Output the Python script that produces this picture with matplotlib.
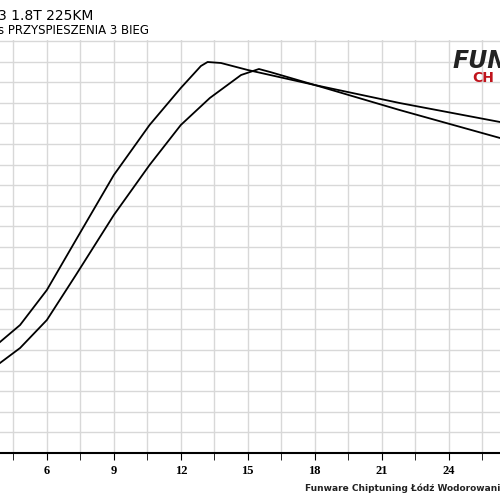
import numpy as np
import matplotlib.pyplot as plt

# time [s] and curve values (arbitrary units)
t_a = [3.9, 4.8, 6.0, 7.3, 9.0, 10.6, 12.0, 12.9, 13.2, 13.8, 15.0, 18.0, 21.8, 26.3]
y_a = [111, 128, 163, 213, 278, 328, 365, 387, 391, 390, 383, 368, 343, 315]
t_b = [3.9, 4.8, 6.0, 7.3, 9.0, 10.6, 12.0, 13.3, 14.7, 15.5, 16.0, 18.0, 21.8, 26.3]
y_b = [90, 105, 133, 178, 238, 288, 328, 355, 378, 384, 381, 368, 350, 331]

fig = plt.figure(figsize=(5, 5), dpi=100)
ax = fig.add_axes([0, 0.094, 1, 0.826])
ax.plot(t_a, y_a, color='black', lw=1.3)
ax.plot(t_b, y_b, color='black', lw=1.3)
ax.set_xlim(3.9, 26.3)
ax.set_ylim(0, 413)
ax.set_xticks([6, 9, 12, 15, 18, 21, 24])
ax.set_xticks(np.arange(4.5, 27, 1.5), minor=True)
ax.set_yticks(np.arange(0, 414, 20.6))
ax.grid(True, which='both', color='#d8d8d8', lw=1)
ax.tick_params(axis='y', left=False, labelleft=False)
ax.tick_params(axis='x', which='both', length=5, labelsize=9)
for lab in ax.get_xticklabels():
    lab.set_fontfamily('Liberation Serif')
    lab.set_fontweight('bold')
for s in ['top', 'right', 'left']:
    ax.spines[s].set_visible(False)
ax.spines['bottom'].set_linewidth(1.5)

# titles are cut by the left edge, as in the reference
fig.text(-0.005, 0.955, '3 1.8T 225KM', fontsize=10, va='bottom')
fig.text(-0.005, 0.925, 's PRZYSPIESZENIA 3 BIEG', fontsize=8.5, va='bottom')
fig.text(0.905, 0.865, 'FUN', fontsize=17, fontweight='bold', style='italic', color='#222222')
fig.text(0.945, 0.835, 'CH', fontsize=10, fontweight='bold', color='#c0141c')
fig.text(0.61, 0.018, 'Funware Chiptuning Łódź Wodorowanie Tel.', fontsize=6.5, fontweight='bold', color='#222222')
fig.savefig('out.png')
